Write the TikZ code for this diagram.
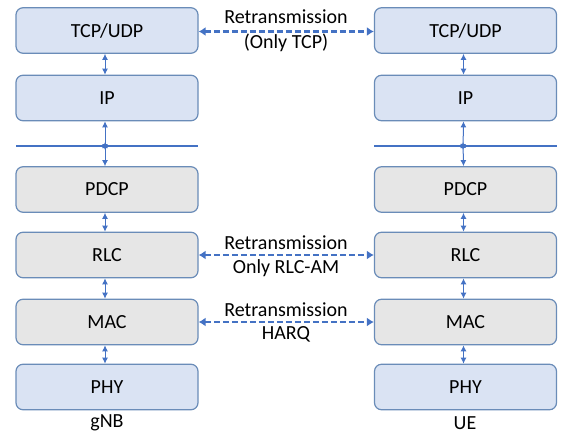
\documentclass[tikz,border=0pt]{standalone}
\usepackage{fontspec}
\setmainfont{Carlito}
\usetikzlibrary{arrows.meta}
\definecolor{bfill}{HTML}{DAE3F3}
\definecolor{gfill}{HTML}{E6E6E6}
\definecolor{bdr}{HTML}{6A8CB8}
\definecolor{arr}{HTML}{4472C4}
\tikzset{
  layer/.style={draw=bdr, line width=1.2pt, rounded corners=7pt, minimum width=182pt, minimum height=45.5pt, inner sep=0pt, font=\fontsize{20}{23}\selectfont, text=black},
  bluebox/.style={layer, fill=bfill},
  graybox/.style={layer, fill=gfill},
  varr/.style={draw=arr, line width=1pt, {Latex[length=6pt,width=6pt]}-{Latex[length=6pt,width=6pt]}},
  harr/.style={draw=arr, line width=2.5pt, dash pattern=on 6pt off 3pt, {Latex[length=7pt,width=9pt]}-{Latex[length=7pt,width=9pt]}},
  lbl/.style={font=\fontsize{20}{23}\selectfont, inner sep=0pt, text=black},
  sep/.style={draw=arr, line width=1.5pt}
}
\begin{document}
\begin{tikzpicture}[x=1pt,y=-1pt]
\useasboundingbox (0,0) rectangle (561,434);
% left stack
\node[bluebox] (lt) at (107,30.5) {TCP/UDP};
\node[bluebox] (li) at (107,98) {IP};
\node[graybox] (lp) at (107,189.5) {PDCP};
\node[graybox] (lr) at (107,255) {RLC};
\node[graybox] (lm) at (107,322) {MAC};
\node[bluebox] (lh) at (107,387) {PHY};
% right stack
\node[bluebox] (rt) at (465.5,30.5) {TCP/UDP};
\node[bluebox] (ri) at (465.5,98) {IP};
\node[graybox] (rp) at (465.5,189.5) {PDCP};
\node[graybox] (rr) at (465.5,255) {RLC};
\node[graybox] (rm) at (465.5,322) {MAC};
\node[bluebox] (rh) at (465.5,387) {PHY};
% separator lines
\coordinate (lsa) at (16,146);
\coordinate (lsb) at (198,146);
\coordinate (rsa) at (374,146);
\coordinate (rsb) at (557,146);
\draw[sep] (lsa) -- (lsb);
\draw[sep] (rsa) -- (rsb);
\coordinate (lsm) at (105,146);
\coordinate (rsm) at (463,146);
% vertical arrows left
\draw[varr] ([xshift=-2pt]lt.south) -- ([xshift=-2pt]li.north);
\draw[varr] ([xshift=-2pt]li.south) -- ([yshift=-4pt]lsm);
\draw[varr] ([yshift=4pt]lsm) -- ([xshift=-2pt]lp.north);
\draw[varr] ([xshift=-2pt]lp.south) -- ([xshift=-2pt]lr.north);
\draw[varr] ([xshift=-2pt]lr.south) -- ([xshift=-2pt]lm.north);
\draw[varr] ([xshift=-2pt]lm.south) -- ([xshift=-2pt]lh.north);
% vertical arrows right
\draw[varr] ([xshift=-2pt]rt.south) -- ([xshift=-2pt]ri.north);
\draw[varr] ([xshift=-2pt]ri.south) -- ([yshift=-4pt]rsm);
\draw[varr] ([yshift=4pt]rsm) -- ([xshift=-2pt]rp.north);
\draw[varr] ([xshift=-2pt]rp.south) -- ([xshift=-2pt]rr.north);
\draw[varr] ([xshift=-2pt]rr.south) -- ([xshift=-2pt]rm.north);
\draw[varr] ([xshift=-2pt]rm.south) -- ([xshift=-2pt]rh.north);
% horizontal retransmission arrows
\draw[harr] ([yshift=-1pt]lt.east) -- ([yshift=-1pt]rt.east -| rt.west);
\draw[harr] (lr.east) -- (rr.west);
\draw[harr] (lm.east) -- (rm.west);
% labels
\node[lbl] (t1) at (286,17) {Retransmission};
\node[lbl] (t2) at (286,43) {(Only TCP)};
\node[lbl] (r1) at (286,243) {Retransmission};
\node[lbl] (r2) at (286,268) {Only RLC-AM};
\node[lbl] (m1) at (286,310) {Retransmission};
\node[lbl] (m2) at (286,334) {HARQ};
\node[lbl] (g) at (107,423) {gNB};
\node[lbl] (u) at (465,423) {UE};
\end{tikzpicture}
\end{document}
